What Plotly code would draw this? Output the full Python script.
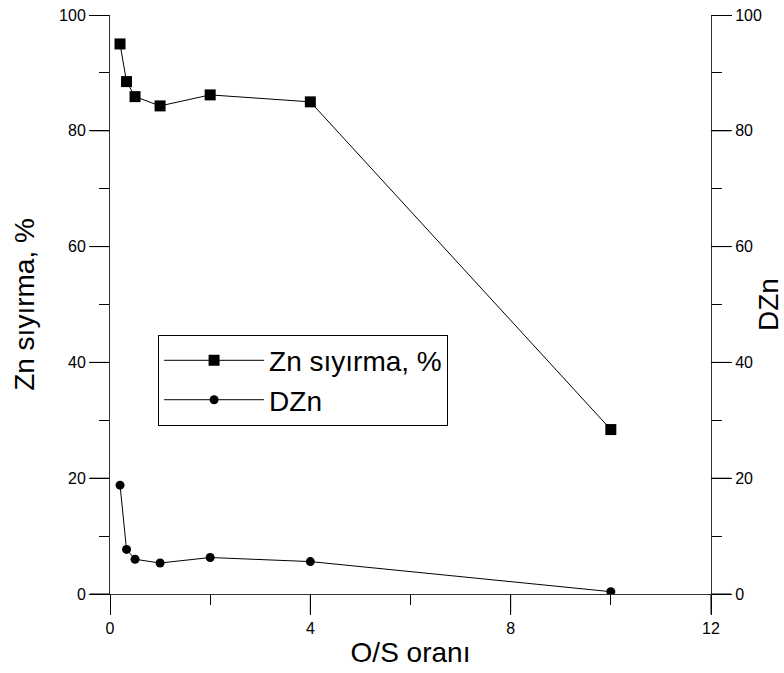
import plotly.graph_objects as go

# O/S ratio vs. Zn stripping efficiency and distribution ratio
os_ratio = [0.2, 0.33, 0.5, 1, 2, 4, 10]
zn_stripping = [95.0, 88.5, 85.9, 84.3, 86.2, 85.0, 28.4]
d_zn = [18.8, 7.7, 6.0, 5.35, 6.3, 5.6, 0.4]

x_major = [0, 4, 8, 12]
y_major = [0, 20, 40, 60, 80, 100]

FONT = "Liberation Sans, Arial, sans-serif"
INK = "black"
TICK_INK = "rgb(1,1,1)"
TITLE_SIZE = 28
MAJOR_LEN = 20

fig = go.Figure()
fig.add_trace(go.Scatter(
    x=os_ratio, y=zn_stripping, name="Zn sıyırma, %",
    mode="lines+markers",
    line=dict(color=INK, width=1),
    marker=dict(symbol="square", size=11, color=INK),
))
fig.add_trace(go.Scatter(
    x=os_ratio, y=d_zn, name="DZn", yaxis="y2",
    mode="lines+markers",
    line=dict(color=INK, width=1),
    marker=dict(symbol="circle", size=9, color=INK),
))

axis_common = dict(
    showline=True, linecolor="#333", linewidth=1,
    ticks="outside", ticklen=MAJOR_LEN, tickcolor=TICK_INK, tickwidth=1,
    showgrid=False, zeroline=False, automargin=False,
    tickfont=dict(family=FONT, size=16, color=INK),
)

fig.update_layout(
    width=784, height=673,
    margin=dict(l=110, r=73, t=15, b=79),
    paper_bgcolor="white", plot_bgcolor="white",
    font=dict(family=FONT, color=INK),
    showlegend=True,
    legend=dict(
        x=0.08, y=0.448, xanchor="left", yanchor="top",
        bordercolor=INK, borderwidth=1, bgcolor="white",
        font=dict(family=FONT, size=TITLE_SIZE, color=INK),
        itemwidth=100, tracegroupgap=0,
    ),
    xaxis=dict(
        range=[0, 12], tickvals=x_major,
        minor=dict(ticks="outside", ticklen=10, dtick=2, tick0=0, tickcolor=INK),
        title=dict(text="O/S oranı", font=dict(family=FONT, size=TITLE_SIZE, color=INK), standoff=6),
        **axis_common,
    ),
    yaxis=dict(
        range=[0, 100], tickvals=y_major,
        minor=dict(ticks="outside", ticklen=10, dtick=10, tick0=0, tickcolor=INK),
        title=dict(text="Zn sıyırma, %", font=dict(family=FONT, size=TITLE_SIZE, color=INK), standoff=16),
        **axis_common,
    ),
    yaxis2=dict(
        range=[0, 100], tickvals=y_major,
        overlaying="y", side="right",
        minor=dict(ticks="outside", ticklen=10, dtick=10, tick0=0, tickcolor=INK),
        title=dict(text="DZn", font=dict(family=FONT, size=TITLE_SIZE, color=INK), standoff=12),
        **axis_common,
    ),
)

# long major ticks, drawn outward from each axis line
tick_line = dict(color=INK, width=1)
for v in x_major:
    fig.add_shape(type="line", xref="x", yref="paper",
                  ysizemode="pixel", yanchor=0, x0=v, x1=v, y0=0, y1=-MAJOR_LEN,
                  line=tick_line)
for v in y_major:
    fig.add_shape(type="line", xref="paper", yref="y",
                  xsizemode="pixel", xanchor=0, x0=-MAJOR_LEN, x1=0, y0=v, y1=v,
                  line=tick_line)
    fig.add_shape(type="line", xref="paper", yref="y",
                  xsizemode="pixel", xanchor=1, x0=0, x1=MAJOR_LEN, y0=v, y1=v,
                  line=tick_line)

fig.write_html("out.html")
